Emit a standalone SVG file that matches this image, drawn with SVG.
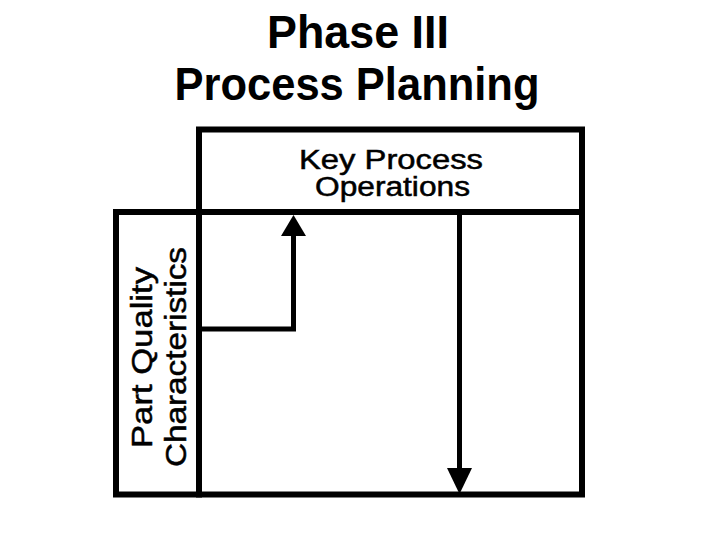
<svg xmlns="http://www.w3.org/2000/svg" width="720" height="540" viewBox="0 0 720 540">
  <style>
    .frame { fill: none; stroke: #000; stroke-width: 6; stroke-linecap: square; }
    .conn { fill: none; stroke: #000; stroke-width: 5; stroke-linejoin: miter; }
    .head { fill: #000; stroke: none; }
    .title { font-family: "Liberation Sans", Arial, sans-serif; font-weight: bold; font-size: 46px; fill: #000; text-anchor: middle; }
    .label { font-family: "Liberation Sans", Arial, sans-serif; font-size: 29px; fill: #000; stroke: #000; stroke-width: 0.5; text-anchor: middle; }
    .hdr { font-size: 27px; }
  </style>
  <rect width="720" height="540" fill="#fff"/>
  <g id="title">
    <text class="title" x="358" y="48" textLength="182" lengthAdjust="spacingAndGlyphs">Phase III</text>
    <text class="title" x="357" y="100" textLength="365" lengthAdjust="spacingAndGlyphs">Process Planning</text>
  </g>
  <g id="key-process-operations">
    <rect class="frame" x="199" y="129.5" width="383" height="82.5"/>
    <text class="label hdr" x="391" y="169" textLength="184" lengthAdjust="spacingAndGlyphs">Key Process</text>
    <text class="label hdr" x="392.5" y="196" textLength="155" lengthAdjust="spacingAndGlyphs">Operations</text>
  </g>
  <g id="part-quality-characteristics">
    <rect class="frame" x="116" y="212" width="83" height="282.5"/>
    <text class="label" transform="translate(152 357.5) rotate(-90)" x="0" y="0" textLength="181" lengthAdjust="spacingAndGlyphs">Part Quality</text>
    <text class="label" transform="translate(185.5 357) rotate(-90)" x="0" y="0" textLength="220" lengthAdjust="spacingAndGlyphs">Characteristics</text>
  </g>
  <g id="matrix">
    <rect class="frame" x="199" y="212" width="383" height="282.5"/>
  </g>
  <g id="connectors">
    <polyline class="conn" points="199,329 293.5,329 293.5,234"/>
    <polygon class="head" points="281,236 306,236 293.5,215"/>
    <line class="conn" x1="459.5" y1="212" x2="459.5" y2="470"/>
    <polygon class="head" points="447,468 472,468 459.5,494"/>
  </g>
</svg>
